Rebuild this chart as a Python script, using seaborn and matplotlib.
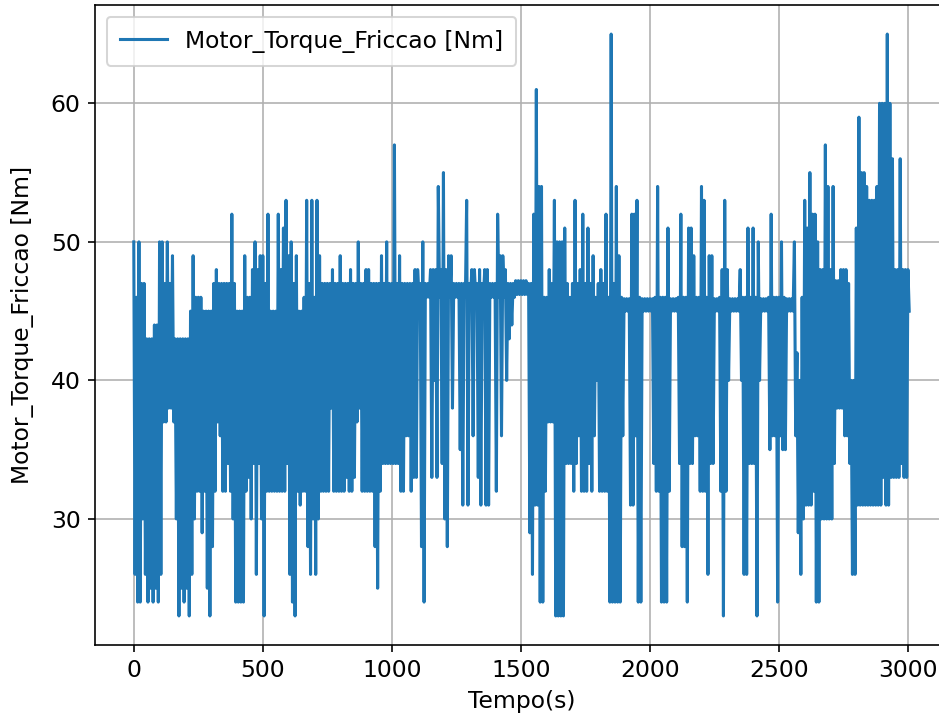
import matplotlib
matplotlib.use("Agg")
import matplotlib.pyplot as plt
import seaborn as sns
import pandas as pd

# The signal switches very fast, so it is read as an upper and a lower
# envelope every 10 s (upper value at t, lower value at t + 5 s).
passo_s = 10
tempo = list(range(0, 3001, passo_s))

torque_sup = [
    50, 46, 50, 47, 47, 43, 43, 43, 44, 44,
    50, 50, 47, 50, 47, 49, 43, 43, 43, 43,
    43, 43, 45, 49, 46, 46, 46, 45, 45, 45,
    45, 47, 48, 47, 47, 47, 47, 47, 52, 47,
    45, 45, 45, 49, 46, 46, 48, 50, 48, 49,
    49, 47, 52, 45, 45, 45, 52, 48, 51, 53,
    49, 50, 47, 49, 45, 45, 46, 53, 47, 53,
    46, 53, 49, 47, 47, 47, 47, 48, 47, 47,
    49, 47, 47, 47, 48, 47, 47, 50, 47, 47,
    48, 48, 47, 47, 47, 47, 49, 47, 50, 47,
    47, 57, 47, 49, 47, 47, 47, 47, 47, 48,
    48, 47, 50, 47, 47, 48, 48, 48, 54, 48,
    55, 48, 49, 49, 47, 47, 47, 47, 47, 53,
    47, 48, 48, 47, 48, 47, 48, 48, 47, 47,
    47, 52, 49, 49, 48, 47, 47, 47, 47.2, 47.2,
    47.2, 47.2, 47.2, 47, 47, 52, 61, 54, 54, 46,
    46, 48, 47, 53, 50, 50, 50, 51, 47, 46,
    47, 53, 47, 48, 52, 47, 51, 47, 49, 46,
    47, 48, 47, 52, 46, 65, 47, 54, 49, 46,
    45.9, 45.9, 45.9, 52, 52, 53, 46, 45.9, 45.9, 45.9,
    45.9, 45.9, 46, 54, 46, 46, 46, 51, 45.9, 45.9,
    45.9, 46, 52, 46, 46, 51, 51, 49, 46, 46,
    54, 53, 46, 49, 49, 45.9, 45.9, 46, 48, 53,
    48, 45.9, 45.9, 45.9, 45.9, 48, 46, 46, 51, 46,
    51, 46, 50, 45.9, 45.9, 45.9, 46, 52, 46, 46,
    46, 50, 46, 45.9, 45.9, 45.9, 50, 42, 40, 46,
    53, 51, 55, 52, 52, 50, 48, 48, 57, 54,
    48, 54, 47.2, 47.2, 48, 48, 48, 47, 40, 40,
    51, 59, 55, 55, 54, 53, 53, 53, 54, 60,
    60, 60, 65, 60, 56, 48, 48, 56, 48, 48,
    48]

torque_inf = [
    26, 24, 24, 30, 26, 24, 25, 24, 25, 24,
    26, 37, 37, 38, 38, 37, 30, 23, 25, 24,
    25, 23, 26, 30, 32, 32, 29, 32, 25, 23,
    28, 32, 37, 36, 32, 32, 34, 32, 30, 24,
    24, 24, 24, 32, 33, 30, 34, 26, 34, 30,
    23, 32, 32, 32, 32, 32, 32, 32, 32, 34,
    26, 24, 23, 32, 31, 32, 32, 28, 26, 30,
    26, 30, 32, 32, 32, 32, 38, 32, 32, 32,
    32, 32, 33, 32, 32, 33, 37, 38, 32, 32,
    32, 32, 32, 28, 25, 32, 34, 34, 34, 34,
    34, 34, 34, 32, 32, 36, 36, 32, 33, 33,
    46, 28, 24, 46, 46, 33, 40, 33, 46, 34,
    30, 28, 46, 38, 46, 46, 35, 31, 46, 31,
    46, 36, 46, 33, 31, 46, 31, 31, 46, 46,
    32, 46, 36, 46, 40, 43, 44, 46, 46.2, 46.2,
    46.2, 46.2, 46.2, 29, 26, 31, 31, 24, 24, 32,
    37, 37, 37, 23, 23, 23, 23, 34, 34, 34,
    32, 34, 36, 32, 32, 32, 34, 32, 36, 40,
    32, 32, 32, 32, 24, 24, 24, 24, 24, 36,
    45.0, 45.0, 31, 31, 36, 24, 24, 45.0, 45.0, 45.0,
    45.0, 34, 32, 32, 24, 24, 24, 32, 45.0, 45.0,
    45.0, 34, 28, 28, 24, 34, 34, 36, 36, 32,
    32, 32, 26, 34, 34, 45.0, 45.0, 32, 23, 32,
    40, 45.0, 45.0, 45.0, 45.0, 40, 26, 26, 34, 34,
    34, 23, 40, 45.0, 45.0, 45.0, 35, 36, 36, 24,
    36, 35, 35, 45.0, 45.0, 45.0, 36, 29, 26, 30,
    31, 31, 31, 32, 24, 24, 30, 30, 30, 30,
    30, 34, 38, 38, 38, 36, 36, 34, 26, 26,
    31, 31, 31, 31, 31, 31, 31, 31, 31, 31,
    33, 31, 31, 33, 33, 33, 33, 34, 33, 33,
    45]

col_x = "Tempo(s)"
col_y = "Motor_Torque_Friccao [Nm]"
meio_passo = passo_s // 2
df_sup = pd.DataFrame({col_x: tempo, col_y: torque_sup})
df_inf = pd.DataFrame({col_x: [t + meio_passo for t in tempo], col_y: torque_inf})
df = pd.concat([df_sup, df_inf]).sort_values(col_x).reset_index(drop=True)

plt.rcParams["font.size"] = 11.5
W, H, DPI = 939, 722, 147
fig = plt.figure(figsize=(W / DPI, H / DPI), dpi=DPI)
# axes extend slightly past the right edge (reference is cropped there)
ax = fig.add_axes([95 / W, (H - 645) / H, 853 / W, 640 / H])

sns.lineplot(data=df, x=col_x, y=col_y, ax=ax, estimator=None, sort=False,
             color="#1f77b4", linewidth=1.5, label=col_y)

ax.set_xticks([0, 500, 1000, 1500, 2000, 2500, 3000])
ax.set_yticks([30, 40, 50, 60])
ax.grid(True, color="#b0b0b0", linewidth=0.8)
ax.set_axisbelow(True)
ax.legend(loc="upper left", borderpad=0.55)
ax.set_xlabel(col_x)
ax.set_ylabel(col_y, labelpad=8)

fig.savefig("out.png", dpi=DPI)
